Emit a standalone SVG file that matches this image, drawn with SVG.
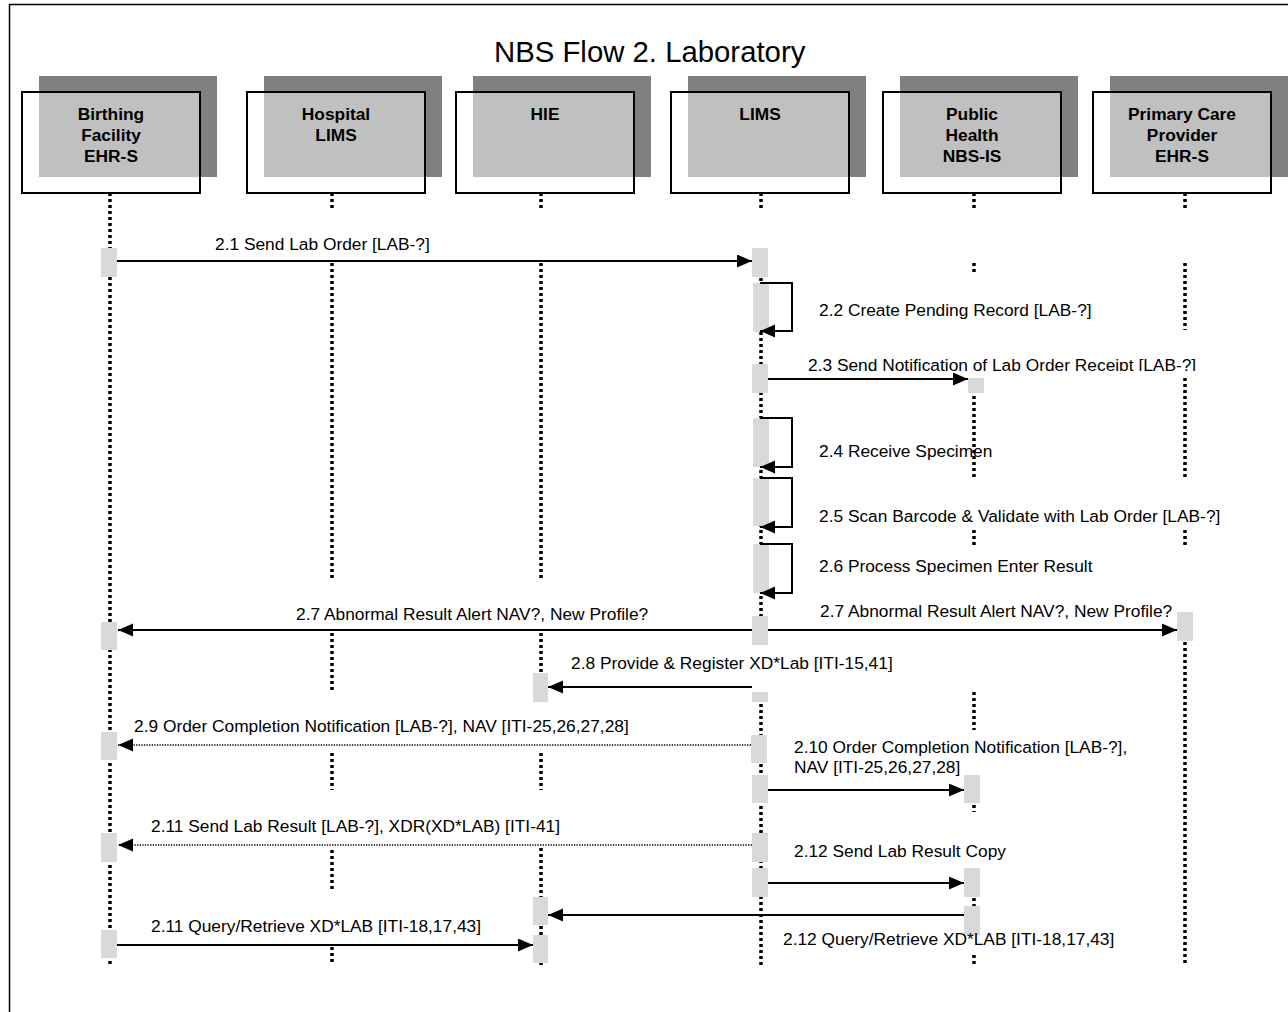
<svg xmlns="http://www.w3.org/2000/svg" width="1288" height="1012" viewBox="0 0 1288 1012">
  <defs>
    <marker id="head" markerUnits="userSpaceOnUse" markerWidth="16" markerHeight="14" refX="15" refY="6.5" orient="auto">
      <path d="M0,0 L15,6.5 L0,13 z" fill="#000"/>
    </marker>
    <clipPath id="clip23">
      <rect x="780" y="340" width="460" height="31"/>
    </clipPath>
  </defs>
  <style>
    .frame { fill: none; stroke: #000; stroke-width: 1.5; }
    .title { font-family: "Liberation Sans", Arial, sans-serif; font-size: 29.33px; fill: #000; }
    .shadow { fill: #808080; }
    .overlap { fill: #c0c0c0; }
    .box { fill: none; stroke: #000; stroke-width: 2; }
    .name { font-family: "Liberation Sans", Arial, sans-serif; font-size: 17.33px; font-weight: bold; fill: #000; text-anchor: middle; }
    .life { fill: none; stroke: #000; stroke-width: 3.5; stroke-dasharray: 3 3; }
    .act { fill: #d9d9d9; }
    .msg { fill: none; stroke: #000; stroke-width: 2; marker-end: url(#head); }
    .reply { fill: none; stroke: #000; stroke-width: 1.3; stroke-dasharray: 1.3 1.3; marker-end: url(#head); }
    .self { fill: none; stroke: #000; stroke-width: 2; marker-end: url(#head); }
    .lbl { font-family: "Liberation Sans", Arial, sans-serif; font-size: 17.33px; fill: #000; }
  </style>

  <rect width="1288" height="1012" fill="#fff"/>
  <path class="frame" d="M9.5,1012 V4.5 H1288"/>
  <text class="title" x="494" y="62">NBS Flow 2. Laboratory</text>

  <!-- lifelines -->
  <g id="lifelines">
    <path class="life" d="M110,193 V965"/>
    <path class="life" d="M332,193 V210 M332,263 V578 M332,633 V690 M332,753 V790 M332,850 V892 M332,947 V965"/>
    <path class="life" d="M541,193 V210 M541,263 V578 M541,633 V673 M541,753 V790 M541,848 V965"/>
    <path class="life" d="M761,193 V210 M761,248 V645 M761,692 V965"/>
    <path class="life" d="M974,193 V210 M974,263 V275 M974,378 V477 M974,530 V548 M974,692 V730 M974,775 V812 M974,868 V935 M974,955 V965"/>
    <path class="life" d="M1185,193 V210 M1185,263 V330 M1185,378 V477 M1185,530 V548 M1185,612 V965"/>
  </g>

  <!-- participants -->
  <g id="birthing-facility">
    <rect class="shadow" x="39" y="76" width="178" height="101"/>
    <rect class="overlap" x="39" y="92" width="161" height="85"/>
    <rect class="box" x="22" y="92" width="178" height="101"/>
    <text class="name" x="111" y="120">Birthing</text>
    <text class="name" x="111" y="141">Facility</text>
    <text class="name" x="111" y="162">EHR-S</text>
  </g>
  <g id="hospital-lims">
    <rect class="shadow" x="264" y="76" width="178" height="101"/>
    <rect class="overlap" x="264" y="92" width="161" height="85"/>
    <rect class="box" x="247" y="92" width="178" height="101"/>
    <text class="name" x="336" y="120">Hospital</text>
    <text class="name" x="336" y="141">LIMS</text>
  </g>
  <g id="hie">
    <rect class="shadow" x="473" y="76" width="178" height="101"/>
    <rect class="overlap" x="473" y="92" width="161" height="85"/>
    <rect class="box" x="456" y="92" width="178" height="101"/>
    <text class="name" x="545" y="120">HIE</text>
  </g>
  <g id="lims">
    <rect class="shadow" x="688" y="76" width="178" height="101"/>
    <rect class="overlap" x="688" y="92" width="161" height="85"/>
    <rect class="box" x="671" y="92" width="178" height="101"/>
    <text class="name" x="760" y="120">LIMS</text>
  </g>
  <g id="public-health">
    <rect class="shadow" x="900" y="76" width="178" height="101"/>
    <rect class="overlap" x="900" y="92" width="161" height="85"/>
    <rect class="box" x="883" y="92" width="178" height="101"/>
    <text class="name" x="972" y="120">Public</text>
    <text class="name" x="972" y="141">Health</text>
    <text class="name" x="972" y="162">NBS-IS</text>
  </g>
  <g id="primary-care">
    <rect class="shadow" x="1110" y="76" width="178" height="101"/>
    <rect class="overlap" x="1110" y="92" width="161" height="85"/>
    <rect class="box" x="1093" y="92" width="178" height="101"/>
    <text class="name" x="1182" y="120">Primary Care</text>
    <text class="name" x="1182" y="141">Provider</text>
    <text class="name" x="1182" y="162">EHR-S</text>
  </g>

  <!-- activation bars -->
  <g id="activations">
    <rect class="act" x="101" y="248" width="16" height="29"/>
    <rect class="act" x="752" y="248" width="16" height="29"/>
    <rect class="act" x="753" y="283" width="16" height="49"/>
    <rect class="act" x="752" y="364" width="16" height="29"/>
    <rect class="act" x="968" y="378" width="16" height="15"/>
    <rect class="act" x="753" y="418" width="16" height="49"/>
    <rect class="act" x="753" y="478" width="16" height="48"/>
    <rect class="act" x="753" y="544" width="16" height="49"/>
    <rect class="act" x="752" y="616" width="16" height="29"/>
    <rect class="act" x="101" y="622" width="16" height="28"/>
    <rect class="act" x="1177" y="612" width="16" height="29"/>
    <rect class="act" x="533" y="673" width="15" height="29"/>
    <rect class="act" x="752" y="692" width="16" height="10"/>
    <rect class="act" x="751" y="735" width="16" height="28"/>
    <rect class="act" x="101" y="732" width="16" height="28"/>
    <rect class="act" x="752" y="775" width="16" height="28"/>
    <rect class="act" x="964" y="775" width="16" height="28"/>
    <rect class="act" x="752" y="833" width="16" height="29"/>
    <rect class="act" x="101" y="833" width="16" height="29"/>
    <rect class="act" x="752" y="868" width="16" height="29"/>
    <rect class="act" x="964" y="868" width="16" height="29"/>
    <rect class="act" x="964" y="906" width="16" height="29"/>
    <rect class="act" x="533" y="897" width="15" height="28"/>
    <rect class="act" x="533" y="935" width="15" height="28"/>
    <rect class="act" x="101" y="930" width="16" height="28"/>
  </g>

  <!-- messages -->
  <g id="connectors">
    <path class="msg" d="M117,261 H752"/>
    <path class="self" d="M760,283 H792 V331 H760"/>
    <path class="msg" d="M768,379 H968"/>
    <path class="self" d="M760,418 H792 V467 H760"/>
    <path class="self" d="M760,478 H792 V527 H760"/>
    <path class="self" d="M760,544 H792 V593 H760"/>
    <path class="msg" d="M752,630 H118"/>
    <path class="msg" d="M768,630 H1177"/>
    <path class="msg" d="M752,687 H548"/>
    <path class="reply" d="M751,745 H118"/>
    <path class="msg" d="M768,790 H964"/>
    <path class="reply" d="M752,845 H118"/>
    <path class="msg" d="M768,883 H964"/>
    <path class="msg" d="M964,915 H548"/>
    <path class="msg" d="M117,945 H533"/>
  </g>

  <!-- message labels -->
  <g id="labels">
    <text class="lbl" x="215" y="250">2.1 Send Lab Order [LAB-?]</text>
    <text class="lbl" x="819" y="316">2.2 Create Pending Record [LAB-?]</text>
    <text class="lbl" x="808" y="371" clip-path="url(#clip23)">2.3 Send Notification of Lab Order Receipt [LAB-?]</text>
    <text class="lbl" x="819" y="457">2.4 Receive Specimen</text>
    <text class="lbl" x="819" y="522">2.5 Scan Barcode &amp; Validate with Lab Order [LAB-?]</text>
    <text class="lbl" x="819" y="572">2.6 Process Specimen Enter Result</text>
    <text class="lbl" x="296" y="620">2.7 Abnormal Result Alert NAV?, New Profile?</text>
    <text class="lbl" x="820" y="617">2.7 Abnormal Result Alert NAV?, New Profile?</text>
    <text class="lbl" x="571" y="669">2.8 Provide &amp; Register XD*Lab [ITI-15,41]</text>
    <text class="lbl" x="134" y="732">2.9 Order Completion Notification [LAB-?], NAV [ITI-25,26,27,28]</text>
    <text class="lbl" x="794" y="753">2.10 Order Completion Notification [LAB-?],</text>
    <text class="lbl" x="794" y="773">NAV [ITI-25,26,27,28]</text>
    <text class="lbl" x="151" y="832">2.11 Send Lab Result [LAB-?], XDR(XD*LAB) [ITI-41]</text>
    <text class="lbl" x="794" y="857">2.12 Send Lab Result Copy</text>
    <text class="lbl" x="151" y="932">2.11 Query/Retrieve XD*LAB [ITI-18,17,43]</text>
    <text class="lbl" x="783" y="945">2.12 Query/Retrieve XD*LAB [ITI-18,17,43]</text>
  </g>
</svg>
